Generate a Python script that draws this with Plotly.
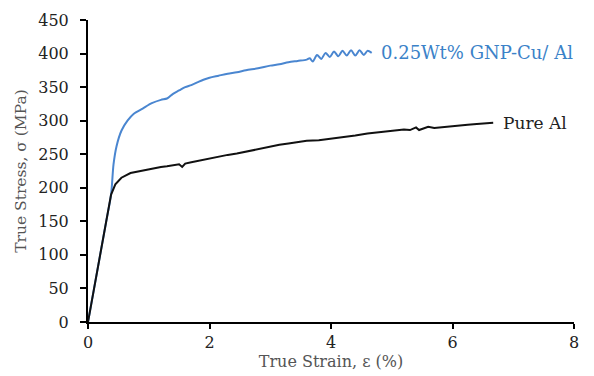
import plotly.graph_objects as go

# Pure Al
al_strain = [0, 0.1, 0.2, 0.3, 0.38, 0.45, 0.55, 0.7, 0.85, 1.0, 1.1, 1.2, 1.3, 1.4, 1.5, 1.55, 1.6,
             1.7, 1.85, 2.0, 2.15, 2.3, 2.45, 2.6, 2.8, 3.0, 3.15, 3.3, 3.45, 3.6, 3.8, 4.0, 4.2,
             4.4, 4.6, 4.8, 5.0, 5.2, 5.3, 5.4, 5.45, 5.5, 5.6, 5.7, 5.8, 5.95, 6.1, 6.25, 6.4,
             6.55, 6.67]
al_stress = [0, 50, 100, 150, 190, 205, 215, 222, 225, 228, 229, 231, 232, 234, 235, 231, 236,
             238, 241, 244, 246, 249, 251, 254, 258, 262, 264, 266, 268, 270, 271, 273, 276,
             278, 281, 283, 285, 287, 286, 290, 286, 288, 291, 289, 290, 292, 293, 294, 295,
             296, 297]

# 0.25Wt% GNP-Cu/Al
gnp_strain = [0, 0.1, 0.2, 0.3, 0.38, 0.42, 0.47, 0.55, 0.65, 0.75, 0.9, 1.05, 1.2, 1.3, 1.4,
              1.5, 1.6, 1.7, 1.8, 1.9, 2.0, 2.15, 2.3, 2.45, 2.6, 2.8, 3.0, 3.15, 3.3, 3.45, 3.6,
              3.65, 3.7, 3.77, 3.84, 3.91, 3.98, 4.05, 4.12, 4.19, 4.26, 4.33, 4.4, 4.47,
              4.54, 4.6, 4.67]
gnp_stress = [0, 50, 100, 150, 190, 235, 262, 285, 300, 310, 318, 326, 331, 333, 340,
              345, 350, 353, 357, 361, 364, 367, 370, 372, 375, 378, 382, 384, 387, 389, 391,
              393, 388, 398, 392, 401, 395, 403, 396, 404, 397, 405, 397, 405, 398, 404, 401]

x_ticks = [0, 2, 4, 6, 8]
y_ticks = [0, 50, 100, 150, 200, 250, 300, 350, 400, 450]

FONT = "DejaVu Serif"

fig = go.Figure()
fig.add_trace(go.Scatter(x=gnp_strain, y=gnp_stress, mode="lines",
                         line=dict(color="#4a86d0", width=2, shape="spline", smoothing=0.8),
                         cliponaxis=False, name="0.25Wt% GNP-Cu/ Al"))
fig.add_trace(go.Scatter(x=al_strain, y=al_stress, mode="lines",
                         line=dict(color="#111111", width=2), cliponaxis=False,
                         name="Pure Al"))

fig.add_annotation(x=gnp_strain[-1], y=gnp_stress[-1], text="0.25Wt% GNP-Cu/ Al",
                   showarrow=False, xanchor="left", xshift=7, yshift=0,
                   font=dict(family=FONT, size=18, color="#3b82c8"))
fig.add_annotation(x=al_strain[-1], y=al_stress[-1], text="Pure Al",
                   showarrow=False, xanchor="left", xshift=8,
                   font=dict(family=FONT, size=17, color="#222222"))

# page body adds an 8px offset; compensate in size and margins
fig.update_layout(
    width=586, height=368,
    margin=dict(l=80, r=20, t=12, b=54),
    paper_bgcolor="white", plot_bgcolor="white",
    showlegend=False,
    font=dict(family=FONT, color="#333333"),
)
fig.update_xaxes(range=[0, 8], tickvals=x_ticks, ticks="outside", ticklen=5, tickwidth=2,
                 tickcolor="black", showline=True, linecolor="black", linewidth=2,
                 showgrid=False, zeroline=False, automargin=False,
                 tickfont=dict(size=16, color="#222222"),
                 title=dict(text="True Strain, ε (%)", font=dict(size=16, color="#555555"),
                            standoff=2))
fig.update_yaxes(range=[0, 450], tickvals=y_ticks, ticks="outside", ticklen=6, tickwidth=2,
                 tickcolor="black", showline=True, linecolor="black", linewidth=2,
                 showgrid=False, zeroline=False, automargin=False, ticklabelstandoff=8,
                 tickfont=dict(size=16, color="#222222"),
                 title=dict(text="True Stress, σ (MPa)", font=dict(size=15.5, color="#555555"),
                            standoff=8))

fig.write_html("out.html")
